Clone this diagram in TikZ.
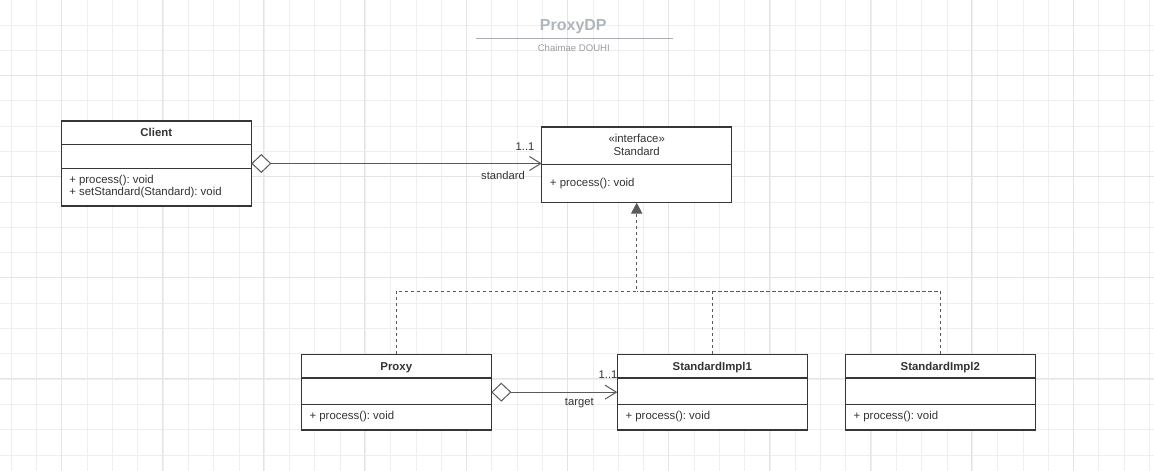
\documentclass[tikz,border=0pt]{standalone}
\usepackage{fontspec}
\setmainfont{Liberation Sans}
\frenchspacing
\usetikzlibrary{arrows.meta,calc}
\definecolor{gridminor}{HTML}{EFEFEF}
\definecolor{gridmajor}{HTML}{E4E4E4}
\definecolor{boxcol}{HTML}{363636}
\definecolor{txtcol}{HTML}{333333}
\definecolor{edgecol}{HTML}{5A5A5A}
\definecolor{titlecol}{HTML}{B0B6BD}
\definecolor{subcol}{HTML}{9C9C9C}
\definecolor{rulecol}{HTML}{A9AEB4}
\begin{document}
\begin{tikzpicture}[x=0.75pt,y=-0.75pt,
  umlbox/.style={draw=boxcol, line width=0.9pt, fill=white, minimum width=142.5pt, inner sep=0pt, outer sep=0pt, anchor=north west},
  divider/.style={draw=boxcol, line width=0.9pt},
  headtxt/.style={font=\fontsize{8.55}{10}\selectfont\bfseries, text=txtcol, text height=6.1pt, text depth=0pt, inner sep=0pt},
  stereotxt/.style={font=\fontsize{8.55}{10}\selectfont, text=txtcol, anchor=base, inner sep=0pt},
  memtxt/.style={font=\fontsize{8.55}{10}\selectfont, text=txtcol, anchor=base west, inner sep=0pt},
  lbltxt/.style={font=\fontsize{8.4}{10}\selectfont, text=txtcol, inner sep=0pt},
  assoc/.style={draw=edgecol, line width=0.75pt,
    {Diamond[fill=white, length=15pt, width=14.25pt]}-{Straight Barb[length=8.5pt, width=10.5pt]}},
  dashedge/.style={draw=edgecol, line width=0.75pt, dash pattern=on 2.4pt off 2.1pt},
  gridmin/.style={draw=gridminor, line width=0.6pt},
  gridmaj/.style={draw=gridmajor, line width=0.6pt}
]
\useasboundingbox (0,0) rectangle (1154,471);
\fill[white] (0,0) rectangle (1154,471);
% grid
\foreach \i in {0,...,45} \draw[gridmin] ({11.3+25.29*\i},0) -- ({11.3+25.29*\i},471);
\foreach \j in {1,...,18} \draw[gridmin] (0,{-0.3+25.29*\j}) -- (1154,{-0.3+25.29*\j});
\foreach \i in {0,...,10} \draw[gridmaj] ({61.3+101.16*\i},0) -- ({61.3+101.16*\i},471);
\foreach \j in {0,...,3} \draw[gridmaj] (0,{75.3+101.16*\j}) -- (1154,{75.3+101.16*\j});

% title
\node[font=\fontsize{12}{14}\selectfont\bfseries, text=titlecol, inner sep=0pt] (title) at (573.3,26.5) {ProxyDP};
\coordinate (ruleL) at (476,38.3);
\coordinate (ruleR) at (672.7,38.3);
\draw[draw=rulecol, line width=0.8pt] (ruleL) -- (ruleR);
\node[font=\fontsize{7.2}{9}\selectfont, text=subcol, inner sep=0pt] (author) at (573.8,47.7) {Chaimae DOUHI};

% Client
\node[umlbox, minimum height=63.75pt] (client) at (61.3,121) {};
\draw[divider] (client.west |- 0,144.7) -- (client.east |- 0,144.7);
\draw[divider] (client.west |- 0,168.7) -- (client.east |- 0,168.7);
\node[headtxt] (clientT) at (156.3,132.8) {Client};
\node[memtxt] (clientM1) at (69,183.3) {+ process(): void};
\node[memtxt] (clientM2) at (69,195.7) {+ setStandard(Standard): void};

% Standard
\node[umlbox, minimum height=56.8pt] (standard) at (541.7,127) {};
\draw[divider] (standard.west |- 0,164.3) -- (standard.east |- 0,164.3);
\node[stereotxt] (standardS) at (636.7,142.3) {«interface»};
\node[stereotxt] (standardT) at (636.7,155.5) {Standard};
\node[memtxt] (standardM) at (549.7,186.5) {+ process(): void};

% Proxy
\node[umlbox, minimum height=56.8pt] (proxy) at (301.3,354.3) {};
\draw[divider] (proxy.west |- 0,378) -- (proxy.east |- 0,378);
\draw[divider] (proxy.west |- 0,404.3) -- (proxy.east |- 0,404.3);
\node[headtxt] (proxyT) at (396.3,366.1) {Proxy};
\node[memtxt] (proxyM) at (309.3,419.5) {+ process(): void};

% StandardImpl1
\node[umlbox, minimum height=56.8pt] (impl1) at (617.3,354.3) {};
\draw[divider] (impl1.west |- 0,378) -- (impl1.east |- 0,378);
\draw[divider] (impl1.west |- 0,404.3) -- (impl1.east |- 0,404.3);
\node[headtxt] (impl1T) at (712.3,366.1) {StandardImpl1};
\node[memtxt] (impl1M) at (625.3,419.5) {+ process(): void};

% StandardImpl2
\node[umlbox, minimum height=56.8pt] (impl2) at (845.3,354.3) {};
\draw[divider] (impl2.west |- 0,378) -- (impl2.east |- 0,378);
\draw[divider] (impl2.west |- 0,404.3) -- (impl2.east |- 0,404.3);
\node[headtxt] (impl2T) at (940.3,366.1) {StandardImpl2};
\node[memtxt] (impl2M) at (853.3,419.5) {+ process(): void};

% aggregations
\draw[assoc] (client.east) -- (client.east -| standard.west);
\node[lbltxt] (m1) at (525,146.5) {1..1};
\node[lbltxt] (r1) at (503,175.5) {standard};
\draw[assoc] (proxy.east) -- (impl1.west);
\node[lbltxt] (m2) at (608,375) {1..1};
\node[lbltxt] (r2) at (579.3,402.7) {target};

% realizations
\coordinate (bus) at (636.7,291);
\draw[dashedge] (impl1.north) |- (bus);
\draw[dashedge] (impl2.north) |- (bus);
\draw[dashedge, -{Triangle[length=8.25pt, width=8.5pt]}] (proxy.north) |- (bus) -- (standard.south);
\end{tikzpicture}
\end{document}
